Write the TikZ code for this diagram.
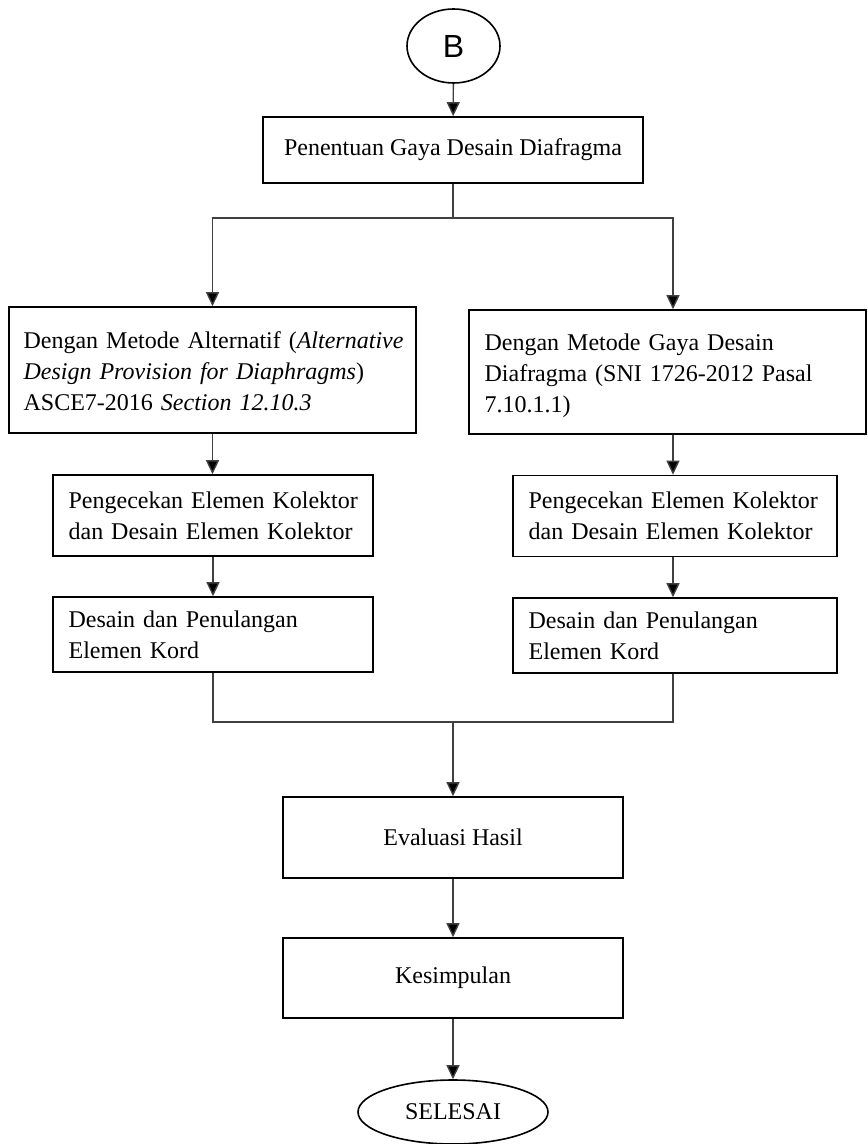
\documentclass[tikz,border=0pt]{standalone}
\usepackage{fontspec}
\setmainfont{Liberation Serif}
\newfontfamily\arialfont{Liberation Sans}
\usetikzlibrary{arrows.meta,shapes.geometric}
\begin{document}
\begin{tikzpicture}[x=0.5pt,y=-0.5pt,
  every node/.style={font=\fontsize{12}{15.5}\selectfont},
  box/.style={draw=black, line width=0.8pt, rectangle, inner sep=0pt},
  ltext/.style={align=left, text width=210pt, inner sep=0pt},
  conn/.style={draw=black!75, line width=0.7pt},
  arr/.style={conn, -{Triangle[width=6.5pt,length=7pt,fill=black]}}]
\useasboundingbox (0,0) rectangle (867,1144);
% terminators
\node[draw, line width=0.8pt, ellipse, minimum width=46.5pt, minimum height=37pt, inner sep=0pt, font=\arialfont\fontsize{16}{18}\selectfont] (B) at (453.5,46) {B};
\node[draw, line width=0.8pt, ellipse, minimum width=95pt, minimum height=32pt, inner sep=0pt] (end) at (453,1112) {SELESAI};
% boxes
\node[box, minimum width=190pt, minimum height=33pt] (gaya) at (453,150) {Penentuan Gaya Desain Diafragma};
\node[box, minimum width=203.5pt, minimum height=63pt] (alt) at (212.5,370) {};
\node[ltext, anchor=west] (altt) at ([xshift=7.5pt,yshift=-0.5pt]alt.west) {Dengan Metode Alternatif (\textit{Alternative}\\\textit{Design Provision for Diaphragms})\\ASCE7-2016 \textit{Section 12.10.3}};
\node[box, minimum width=198.5pt, minimum height=62pt] (sni) at (667.5,372) {};
\node[ltext, anchor=west] (snit) at ([xshift=8pt,yshift=-2pt]sni.west) {Dengan Metode Gaya Desain\\Diafragma (SNI 1726-2012 Pasal\\7.10.1.1)};
\node[box, minimum width=160pt, minimum height=40.5pt] (kol1) at (213,515.5) {};
\node[ltext, anchor=west] (kol1t) at ([xshift=8pt]kol1.west) {Pengecekan Elemen Kolektor\\dan Desain Elemen Kolektor};
\node[box, minimum width=160pt, minimum height=37.5pt] (kord1) at (213,634.5) {};
\node[ltext, anchor=west] (kord1t) at ([xshift=8pt]kord1.west) {Desain dan Penulangan\\Elemen Kord};
\node[box, minimum width=162pt, minimum height=40.5pt] (kol2) at (675,516) {};
\node[ltext, anchor=west] (kol2t) at ([xshift=8pt]kol2.west) {Pengecekan Elemen Kolektor\\dan Desain Elemen Kolektor};
\node[box, minimum width=162pt, minimum height=37.5pt] (kord2) at (675,635.5) {};
\node[ltext, anchor=west] (kord2t) at ([xshift=8pt]kord2.west) {Desain dan Penulangan\\Elemen Kord};
\node[box, minimum width=170pt, minimum height=40.5pt] (eval) at (453,837.5) {Evaluasi Hasil};
\node[box, minimum width=170pt, minimum height=40pt] (kes) at (453,978) {Kesimpulan};
% connectors
\coordinate (split) at (453,218);
\coordinate (join) at (453,722);
\draw[arr] (B) -- (gaya);
\draw[conn] (gaya.south) -- (split);
\draw[arr] (split) -| (alt.north);
\draw[arr] (split) -| (673,0 |- sni.north);
\draw[arr] (alt.south) -- (kol1.north -| alt.south);
\draw[arr] (673,0 |- sni.south) -- (673,0 |- kol2.north);
\draw[arr] (kol1) -- (kord1);
\draw[arr] (673,0 |- kol2.south) -- (673,0 |- kord2.north);
\draw[conn] (213,0 |- kord1.south) |- (join);
\draw[conn] (673,0 |- kord2.south) |- (join);
\draw[arr] (join) -- (eval);
\draw[arr] (eval) -- (kes);
\draw[arr] (kes) -- (end);
\end{tikzpicture}
\end{document}
